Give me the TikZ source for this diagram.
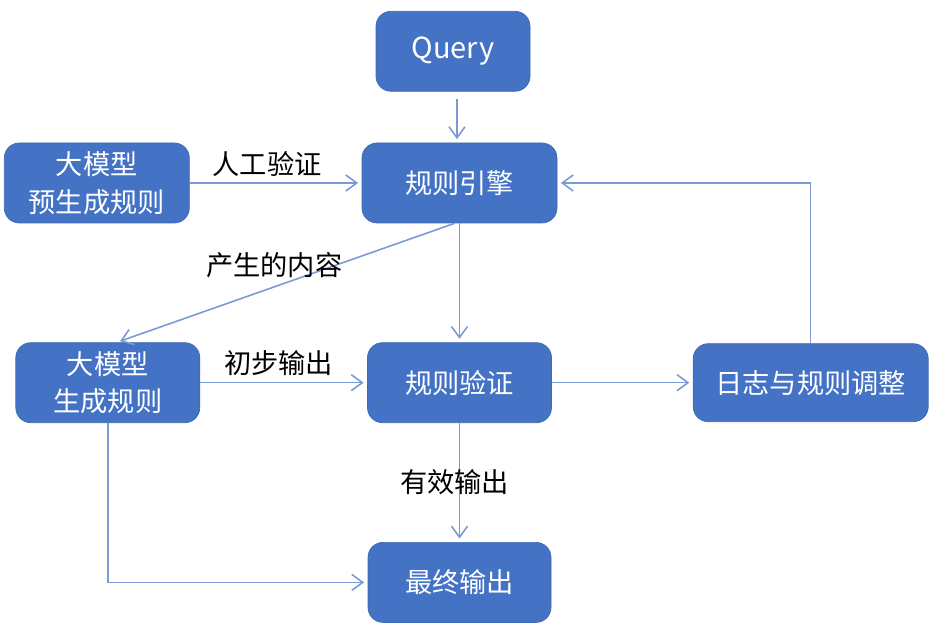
\documentclass[tikz,border=0pt]{standalone}
\usepackage{fontspec}
\setmainfont{Noto Sans CJK SC}
\usepackage{xcolor}
\usepackage{tikz}
\usetikzlibrary{positioning, arrows.meta}

\definecolor{boxblue}{HTML}{4472C4}
\definecolor{boxedge}{HTML}{3F69B5}
\definecolor{linkblue}{HTML}{7A9AD4}

\begin{document}
\begin{tikzpicture}[
      box/.style={draw=boxedge, fill=boxblue, rounded corners=3mm, align=center,
        text=white, minimum height=1.6cm, minimum width=3.68cm,
        font=\fontsize{15.5pt}{21.5pt}\selectfont},
      lbl/.style={text=black, font=\fontsize{15.5pt}{21.5pt}\selectfont},
      arr/.style={draw=linkblue, line width=0.9pt, shorten >=2pt,
        -{Straight Barb[length=2.2mm, width=3.2mm]}}
    ]
    \useasboundingbox (0,0) rectangle (18.78,12.62);

    \node[box, minimum width=3.9cm] (engine) at (9.19,8.96) {规则引擎};
    \node[box, minimum width=3.08cm, above=1.02cm of engine, xshift=-0.13cm,
      font=\fontsize{16.5pt}{21.5pt}\selectfont] (query) {Query};
    \node[box, minimum width=3.7cm, left=3.44cm of engine] (pregen) {大模型\\预生成规则};
    \node[box, below=2.38cm of engine] (verify) {规则验证};
    \node[box, left=3.34cm of verify] (gen) {大模型\\生成规则};
    \node[box, minimum width=4.7cm, minimum height=1.56cm, right=2.82cm of verify] (log) {日志与规则调整};
    \node[box, minimum width=3.66cm, below=2.38cm of verify] (final) {最终输出};

    \draw[arr, shorten <=4pt] ([xshift=0.08cm]query.south) -- ([xshift=0.08cm]query.south |- engine.north);
    \draw[arr] (pregen) -- node[lbl, above, pos=0.45] (manual) {人工验证} (engine);
    \draw[arr] ([xshift=-0.1cm]engine.south) -- node[lbl, pos=0.5, xshift=-0.23cm, yshift=0.35cm] (content) {产生的内容} ([xshift=0.18cm]gen.north);
    \draw[arr] (engine) -- (verify);
    \draw[arr] (gen) -- node[lbl, above, pos=0.47] (first) {初步输出} (verify);
    \draw[arr] (verify) -- (log);
    \draw[arr] (log.north) |- (engine.east);
    \draw[arr] (verify) -- node[lbl, pos=0.5, xshift=-0.1cm] (valid) {有效输出} (final);
    \draw[arr] (gen.south) |- (final.west);
  \end{tikzpicture}
\end{document}
